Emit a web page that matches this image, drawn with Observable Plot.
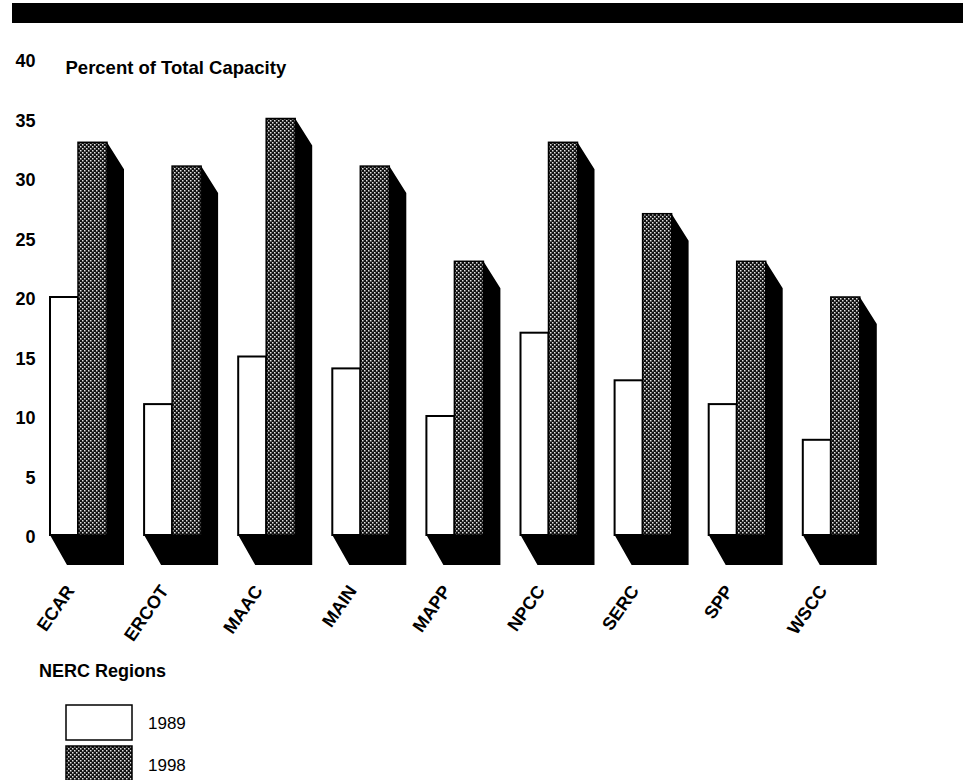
<!DOCTYPE html>
<html>
<head>
<meta charset="utf-8">
<script src="https://cdn.jsdelivr.net/npm/d3@7"></script>
<script src="https://cdn.jsdelivr.net/npm/@observablehq/plot@0.6"></script>
<style>
  html, body { margin: 0; padding: 0; background: #fff; }
  #page { position: relative; width: 963px; height: 780px; overflow: hidden;
          font-family: "Liberation Sans", Arial, Helvetica, sans-serif; }
  #band { position: absolute; left: 12px; right: 0; top: 3px; height: 20px; background: #000; }
  #chart { position: absolute; left: 0; top: 26px; }
  #legend { position: absolute; left: 0; top: 656px; }
</style>
</head>
<body>
<div id="page">
  <div id="band"></div>
  <div id="chart"></div>
  <div id="legend"></div>
</div>
<script>
// Share of total capacity by NERC region, 1989 vs 1998
const categories = ["ECAR", "ERCOT", "MAAC", "MAIN", "MAPP", "NPCC", "SERC", "SPP", "WSCC"];
const values1989 = [20, 11, 15, 14, 10, 17, 13, 11, 8];
const values1998 = [33, 31, 35, 31, 23, 33, 27, 23, 20];
const yTicks = [0, 5, 10, 15, 20, 25, 30, 35, 40];
const seriesLabels = ["1989", "1998"];
const yTitle = "Percent of Total Capacity";
const xTitle = "NERC Regions";

// Bar geometry within one category slot (slot width = 1 index unit)
const FRONT_END = 0.2976;   // right edge of the 1989 bar
const DARK_END = 0.6057;    // right edge of the 1998 bar face
const SIDE_END = 0.7864;    // right edge of the extruded side
const DEPTH_X = 0.1807;     // horizontal depth of the floor slab
const TOP_DROP = 2.27;      // slant of the side's top edge (value units)
const BASE_DROP = 2.52;     // floor slab thickness (value units)

const bars1989 = categories.map((c, i) => ({cat: c, i, v: values1989[i]}));
const bars1998 = categories.map((c, i) => ({cat: c, i, v: values1998[i]}));

// Black floor slab plus the shaded side of each 1998 bar, as one closed area per region
const shadow = bars1998.flatMap(d => [
  {cat: d.cat, x: d.i,             y1: 0,          y2: 0},
  {cat: d.cat, x: d.i + DEPTH_X,   y1: -BASE_DROP, y2: 0},
  {cat: d.cat, x: d.i + DARK_END,  y1: -BASE_DROP, y2: 0},
  {cat: d.cat, x: d.i + DARK_END,  y1: -BASE_DROP, y2: d.v},
  {cat: d.cat, x: d.i + SIDE_END,  y1: -BASE_DROP, y2: d.v - TOP_DROP}
]);

const chart = Plot.plot({
  width: 963,
  height: 630,
  marginTop: 33,
  marginBottom: 121,
  marginLeft: 50,
  marginRight: 66,
  style: {fontFamily: "'Liberation Sans', Arial, Helvetica, sans-serif", fontSize: "18px", color: "#000", background: "transparent"},
  x: {type: "linear", domain: [0, 9], range: [50, 896.9], axis: null},
  y: {domain: [0, 40], range: [509, 33]},
  marks: [
    Plot.area(shadow, {x1: "x", y1: "y1", y2: "y2", z: "cat", fill: "#000", curve: "linear"}),
    Plot.rect(bars1989, {x1: d => d.i, x2: d => d.i + FRONT_END, y1: 0, y2: "v",
      fill: "#fff", stroke: "#000", strokeWidth: 2}),
    Plot.rect(bars1998, {x1: d => d.i + FRONT_END, x2: d => d.i + DARK_END, y1: 0, y2: "v",
      fill: "url(#dots)", stroke: "#000", strokeWidth: 1.5}),
    Plot.axisY({ticks: yTicks, tickSize: 0, tickPadding: 0, dx: -15, dy: 2,
      fontWeight: "bold", fontSize: 18, label: null}),
    Plot.text([yTitle], {frameAnchor: "top-left", dx: 15, dy: 1, textAnchor: "start",
      fontWeight: "bold", fontSize: 18.5}),
    Plot.text(categories, {x: (d, i) => i, y: () => 0, text: d => d, rotate: -55,
      textAnchor: "end", dx: 20, dy: 52, fontWeight: "bold", fontSize: 18})
  ]
});

// Halftone fill used by the 1998 bars
function addDots(svgSel, id) {
  const p = svgSel.insert("defs", ":first-child")
    .append("pattern").attr("id", id).attr("patternUnits", "userSpaceOnUse")
    .attr("width", 4).attr("height", 4);
  p.append("rect").attr("width", 4).attr("height", 4).attr("fill", "#111");
  p.append("rect").attr("x", 0).attr("y", 0).attr("width", 1.5).attr("height", 1.5).attr("fill", "#e2e2e2");
  p.append("rect").attr("x", 2).attr("y", 2).attr("width", 1.5).attr("height", 1.5).attr("fill", "#e2e2e2");
}
addDots(d3.select(chart), "dots");
document.getElementById("chart").appendChild(chart);

// Region title and series key below the chart
const leg = d3.select("#legend").append("svg").attr("width", 300).attr("height", 124)
  .style("font-family", "'Liberation Sans', Arial, Helvetica, sans-serif");
addDots(leg, "dotsKey");
leg.append("text").attr("x", 39).attr("y", 21).attr("font-size", 18).attr("font-weight", "bold").text(xTitle);
const keyFills = ["#fff", "url(#dotsKey)"];
seriesLabels.forEach((s, k) => {
  const top = k === 0 ? 49 : 90;
  leg.append("rect").attr("x", 66).attr("y", top).attr("width", 66).attr("height", k === 0 ? 35 : 40)
    .attr("fill", keyFills[k]).attr("stroke", "#000").attr("stroke-width", 1.5);
  leg.append("text").attr("x", 148).attr("y", k === 0 ? 73 : 115).attr("font-size", 17).text(s);
});
</script>
</body>
</html>
